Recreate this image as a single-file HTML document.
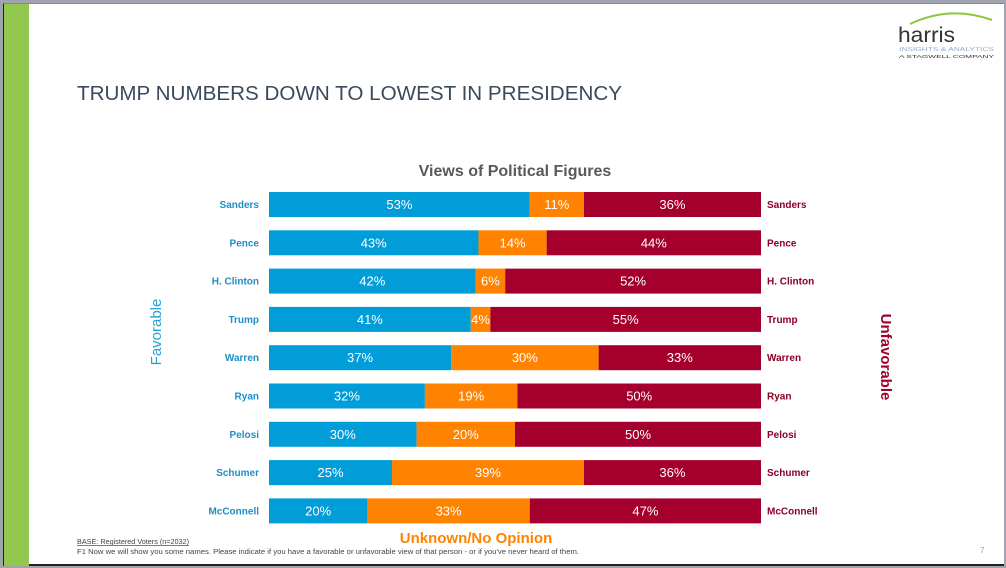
<!DOCTYPE html>
<html><head><meta charset="utf-8">
<style>
body{margin:0;width:1006px;height:568px;overflow:hidden;background:#a0a4ae;font-family:"Liberation Sans",sans-serif;}
#slide{position:absolute;left:3px;top:3px;width:1001px;height:563px;background:#fff;border-left:1px solid #222;border-top:1px solid #888;border-bottom:2px solid #222;box-sizing:border-box;}
</style></head><body>
<div id="slide">
<svg width="1003" height="563" viewBox="3 3 1003 563" style="position:absolute;left:-1px;top:-1px" id="chart">
<rect x="4" y="4" width="25" height="562" fill="#92c84e"/>
<text x="77" y="100" font-size="20" fill="#3a4a5c" textLength="545" lengthAdjust="spacingAndGlyphs">TRUMP NUMBERS DOWN TO LOWEST IN PRESIDENCY</text>
<g>
<path d="M910 24 Q950 5 992 20" stroke="#8dc63f" stroke-width="2" fill="none"/>
<text x="898" y="42" font-size="21" fill="#333" textLength="57" lengthAdjust="spacingAndGlyphs">harris</text>
<text x="899" y="51" font-size="5.5" fill="#9ac" textLength="95" lengthAdjust="spacingAndGlyphs">INSIGHTS &amp; ANALYTICS</text>
<text x="899" y="58" font-size="4.5" fill="#333" textLength="95" lengthAdjust="spacingAndGlyphs">A STAGWELL COMPANY</text>
</g>
<text x="515" y="176" font-size="16" font-weight="bold" fill="#595959" text-anchor="middle">Views of Political Figures</text>
<text transform="translate(161,332) rotate(-90)" font-size="15" fill="#29a3d6" text-anchor="middle">Favorable</text>
<text transform="translate(881,357) rotate(90)" font-size="15" font-weight="bold" fill="#a0002d" text-anchor="middle">Unfavorable</text>
<text x="476" y="543" font-size="15" font-weight="bold" fill="#ff8200" text-anchor="middle">Unknown/No Opinion</text>
<text x="77" y="544" font-size="7" fill="#444" text-decoration="underline" textLength="112" lengthAdjust="spacingAndGlyphs">BASE: Registered Voters (n=2032)</text>
<text x="77" y="554" font-size="7" fill="#444" textLength="502" lengthAdjust="spacingAndGlyphs">F1 Now we will show you some names. Please indicate if you have a favorable or unfavorable view of that person - or if you've never heard of them.</text>
<text x="980" y="553" font-size="8" fill="#5ab0d8">7</text>
<g id="bars"></g>
</svg>
</div>
<script>
const names=["Sanders","Pence","H. Clinton","Trump","Warren","Ryan","Pelosi","Schumer","McConnell"];
const favorable=[53,43,42,41,37,32,30,25,20];
const unknown=[11,14,6,4,30,19,20,39,33];
const unfavorable=[36,44,52,55,33,50,50,36,47];
const x0=269,W=492,y0=192,step=38.3,bh=25;
const g=document.getElementById('bars');
const NS='http://www.w3.org/2000/svg';
function xs(v,t){return x0+v/t*W;}
function mk(tag,attrs){const e=document.createElementNS(NS,tag);for(const k in attrs)e.setAttribute(k,attrs[k]);g.appendChild(e);return e;}
names.forEach((n,i)=>{
  const t=favorable[i]+unknown[i]+unfavorable[i];
  const y=y0+i*step;
  const segs=[[favorable[i],'#009dd9','fav'],[unknown[i],'#ff8200','unk'],[unfavorable[i],'#a5002d','unf']];
  let c=0;
  segs.forEach(s=>{
    const a=xs(c,t),b=xs(c+s[0],t);
    const r=mk('rect',{x:a,y:y,width:b-a,height:bh,fill:s[1]});
    
    
    const tx=mk('text',{x:(a+b)/2,y:y+17,'font-size':13,fill:'#fff','text-anchor':'middle'});
    tx.textContent=s[0]+'%';
    
    
    c+=s[0];
  });
  const l=mk('text',{x:259,y:y+16,'font-size':10,'font-weight':'bold',fill:'#1e8fc6','text-anchor':'end'});
  l.textContent=n;
  
  
  const r=mk('text',{x:767,y:y+16,'font-size':10,'font-weight':'bold',fill:'#8a0026'});
  r.textContent=n;
  
  
});
</script>
</body></html>
